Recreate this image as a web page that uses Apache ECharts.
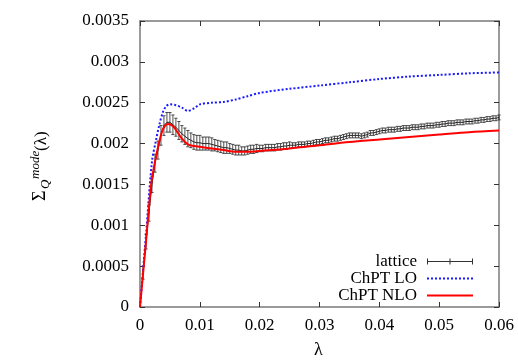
<!DOCTYPE html>
<html>
<head>
<meta charset="utf-8">
<script src="https://cdn.jsdelivr.net/npm/echarts@6/dist/echarts.min.js"></script>
<style>
  html, body { margin: 0; padding: 0; background: #fff; }
  #chart { width: 518px; height: 363px; }
</style>
</head>
<body>
<div id="chart"></div>
<script>
// lattice points: lambda, value, error
const lamLat = [
  0.0005, 0.0010, 0.0015, 0.0020, 0.0025, 0.0030, 0.0035, 0.0040, 0.0045, 0.0050,
  0.0055, 0.0060, 0.0065, 0.0070, 0.0075, 0.0080, 0.0085, 0.0090, 0.0095, 0.0100,
  0.0105, 0.0110, 0.0115, 0.0120, 0.0125, 0.0130, 0.0135, 0.0140, 0.0145, 0.0150,
  0.0155, 0.0160, 0.0165, 0.0170, 0.0175, 0.0180, 0.0185, 0.0190, 0.0195, 0.0200,
  0.0205, 0.0210, 0.0215, 0.0220, 0.0225, 0.0230, 0.0235, 0.0240, 0.0245, 0.0250,
  0.0255, 0.0260, 0.0265, 0.0270, 0.0275, 0.0280, 0.0285, 0.0290, 0.0295, 0.0300,
  0.0305, 0.0310, 0.0315, 0.0320, 0.0325, 0.0330, 0.0335, 0.0340, 0.0345, 0.0350,
  0.0355, 0.0360, 0.0365, 0.0370, 0.0375, 0.0380, 0.0385, 0.0390, 0.0395, 0.0400,
  0.0405, 0.0410, 0.0415, 0.0420, 0.0425, 0.0430, 0.0435, 0.0440, 0.0445, 0.0450,
  0.0455, 0.0460, 0.0465, 0.0470, 0.0475, 0.0480, 0.0485, 0.0490, 0.0495, 0.0500,
  0.0505, 0.0510, 0.0515, 0.0520, 0.0525, 0.0530, 0.0535, 0.0540, 0.0545, 0.0550,
  0.0555, 0.0560, 0.0565, 0.0570, 0.0575, 0.0580, 0.0585, 0.0590, 0.0595, 0.0600
];
const latVal = [
  0.00042, 0.00080, 0.00115, 0.00150, 0.00176, 0.00192, 0.00210, 0.00222, 0.00226, 0.00226,
  0.00223, 0.00220, 0.00216, 0.00212, 0.00209, 0.00206, 0.00204, 0.00202, 0.00201, 0.00201,
  0.00200, 0.00200, 0.00200, 0.00199, 0.00198, 0.00197, 0.00196, 0.00195, 0.00195, 0.00194,
  0.00193, 0.00192, 0.00192, 0.00191, 0.00191, 0.00192, 0.00193, 0.00193, 0.00194, 0.00194,
  0.00194, 0.00195, 0.00195, 0.00195, 0.00195, 0.00196, 0.00196, 0.00197, 0.00197, 0.00198,
  0.00198, 0.00198, 0.00199, 0.00199, 0.00199, 0.00200, 0.00200, 0.00201, 0.00202, 0.00202,
  0.00203, 0.00204, 0.00204, 0.00205, 0.00206, 0.00206, 0.00207, 0.00208, 0.00209, 0.00210,
  0.00210, 0.00210, 0.00210, 0.00209, 0.00210, 0.00211, 0.00213, 0.00213, 0.00214, 0.00215,
  0.00216, 0.00216, 0.00217, 0.00217, 0.00217, 0.00218, 0.00218, 0.00219, 0.00219, 0.00219,
  0.00220, 0.00220, 0.00220, 0.00221, 0.00221, 0.00222, 0.00222, 0.00222, 0.00223, 0.00223,
  0.00224, 0.00224, 0.00225, 0.00225, 0.00225, 0.00226, 0.00226, 0.00226, 0.00227, 0.00227,
  0.00227, 0.00228, 0.00228, 0.00229, 0.00229, 0.00230, 0.00230, 0.00231, 0.00231, 0.00232
];
const latErr = [
  0.00008, 0.00009, 0.00010, 0.00010, 0.00011, 0.00011, 0.00012, 0.00012, 0.00012, 0.00012,
  0.00012, 0.00011, 0.00011, 0.00010, 0.00010, 0.00010, 0.00009, 0.00009, 0.00009, 0.00009,
  0.00008, 0.00008, 0.00008, 0.00008, 0.00007, 0.00007, 0.00007, 0.00007, 0.00007, 0.00006,
  0.00006, 0.00006, 0.00006, 0.00005, 0.00005, 0.00005, 0.00005, 0.00005, 0.00005, 0.00004,
  0.00004, 0.00004, 0.00004, 0.00004, 0.00004, 0.00004, 0.00004, 0.00004, 0.00004, 0.00004,
  0.00003, 0.00003, 0.00003, 0.00003, 0.00003, 0.00003, 0.00003, 0.00003, 0.00003, 0.00003,
  0.00003, 0.00003, 0.00003, 0.00003, 0.00003, 0.00003, 0.00003, 0.00003, 0.00003, 0.00003,
  0.00003, 0.00003, 0.00003, 0.00003, 0.00003, 0.00003, 0.00003, 0.00003, 0.00003, 0.00003,
  0.00003, 0.00003, 0.00003, 0.00003, 0.00003, 0.00003, 0.00003, 0.00003, 0.00003, 0.00003,
  0.00003, 0.00003, 0.00003, 0.00003, 0.00003, 0.00003, 0.00003, 0.00003, 0.00003, 0.00003,
  0.00003, 0.00003, 0.00003, 0.00003, 0.00003, 0.00003, 0.00003, 0.00003, 0.00003, 0.00003,
  0.00003, 0.00003, 0.00003, 0.00003, 0.00003, 0.00003, 0.00003, 0.00003, 0.00003, 0.00003
];

// ChPT LO curve
const lamLO = [0, 0.001, 0.002, 0.0027, 0.0032, 0.0038, 0.0044, 0.005, 0.006, 0.007,
  0.008, 0.009, 0.010, 0.012, 0.014, 0.016, 0.018, 0.020, 0.025, 0.030,
  0.035, 0.040, 0.045, 0.050, 0.055, 0.060];
const valLO = [0, 0.00088, 0.00178, 0.00205, 0.00222, 0.00238, 0.00246, 0.00248, 0.00247, 0.00244,
  0.00240, 0.00243, 0.00248, 0.00250, 0.00251, 0.00254, 0.00258, 0.00262, 0.00267, 0.00271,
  0.00275, 0.00279, 0.00282, 0.00284, 0.00286, 0.00287];

// ChPT NLO curve
const lamNLO = [0, 0.001, 0.0019, 0.0027, 0.0036, 0.0042, 0.0047, 0.0052, 0.0058, 0.0069,
  0.008, 0.009, 0.010, 0.012, 0.014, 0.016, 0.018, 0.020, 0.025, 0.030,
  0.035, 0.040, 0.045, 0.050, 0.055, 0.060];
const valNLO = [0, 0.00080, 0.00152, 0.00185, 0.00213, 0.00222, 0.00224, 0.00223, 0.00219, 0.00207,
  0.00199, 0.00197, 0.00196, 0.00194, 0.00192, 0.00190, 0.00190, 0.00191, 0.00194, 0.00198,
  0.00202, 0.00205, 0.00208, 0.00211, 0.00214, 0.00216];

const serif = '"Liberation Serif", "DejaVu Serif", serif';
const frameColor = '#7a7a7a';

const zip = (xs, ys) => xs.map((x, i) => [x, ys[i]]);
const errData = lamLat.map((x, i) => [x, latVal[i] - latErr[i], latVal[i] + latErr[i]]);

// legend keys drawn as little paths
const iconLattice = 'path://M0,2.5h46v1h-46z M0,0h1v6h-1z M22.5,0h1v6h-1z M45,0h1v6h-1z';
const iconDots = 'path://' + Array.from({ length: 12 }, (_, i) => `M${i * 4},0h2v2h-2z`).join(' ');
const iconSolid = 'path://M0,0h46v2h-46z';

const chart = echarts.init(document.getElementById('chart'), null, { renderer: 'canvas' });

const xBase = {
  type: 'value', min: 0, max: 0.06, interval: 0.01,
  axisLine: { onZero: false, lineStyle: { color: frameColor, width: 1.5 } },
  axisTick: { inside: true, length: 5, lineStyle: { color: '#333' } },
  splitLine: { show: false },
};
const yBase = {
  type: 'value', min: 0, max: 0.0035, interval: 0.0005,
  axisLine: { show: true, onZero: false, lineStyle: { color: frameColor, width: 1.5 } },
  axisTick: { show: true, inside: true, length: 5, lineStyle: { color: '#333' } },
  splitLine: { show: false },
};

chart.setOption({
  animation: false,
  backgroundColor: '#fff',
  grid: { left: 140, right: 19, top: 21, bottom: 56 },
  xAxis: [
    {
      ...xBase, position: 'bottom',
      axisLabel: { color: '#000', fontFamily: serif, fontSize: 17, margin: 10 },
    },
    { ...xBase, position: 'top', axisLabel: { show: false } },
  ],
  yAxis: [
    {
      ...yBase, position: 'left',
      axisLabel: { color: '#000', fontFamily: serif, fontSize: 17, margin: 11 },
    },
    { ...yBase, position: 'right', axisLabel: { show: false } },
  ],
  legend: {
    orient: 'vertical',
    right: 40,
    top: 248,
    align: 'right',
    itemWidth: 46,
    itemHeight: 8,
    itemGap: 0,
    textStyle: { color: '#000', fontFamily: serif, fontSize: 17, padding: [0, 5, 0, 0] },
    data: [
      { name: 'lattice', icon: iconLattice, itemStyle: { color: '#333' } },
      { name: 'ChPT LO', icon: iconDots, itemStyle: { color: '#1a1aff' } },
      { name: 'ChPT NLO', icon: iconSolid, itemStyle: { color: '#ff0000' } },
    ],
  },
  graphic: [
    {
      type: 'group', x: 41, y: 166, rotation: Math.PI / 2,
      children: [
        { type: 'text', x: -35, y: -1, style: { text: 'Σ', font: '18px ' + serif, fill: '#000', verticalAlign: 'middle' } },
        { type: 'text', x: -23, y: 5, style: { text: 'Q', font: 'italic 13px ' + serif, fill: '#000', verticalAlign: 'middle' } },
        { type: 'text', x: -13, y: -5, style: { text: 'mode', font: 'italic 13px ' + serif, fill: '#000', verticalAlign: 'middle' } },
        { type: 'text', x: 15, y: 0.5, style: { text: '(λ)', font: '17px ' + serif, fill: '#000', verticalAlign: 'middle' } },
      ],
    },
    {
      type: 'text', left: 314, top: 341,
      style: { text: 'λ', font: '18px ' + serif, fill: '#000' },
    },
  ],
  series: [
    {
      name: 'lattice',
      type: 'custom',
      data: errData,
      encode: { x: 0, y: [1, 2] },
      z: 2,
      renderItem: (params, api) => {
        const top = api.coord([api.value(0), api.value(2)]);
        const bot = api.coord([api.value(0), api.value(1)]);
        const cap = 1.6;
        const style = { stroke: '#222', lineWidth: 0.8 };
        return {
          type: 'group',
          children: [
            { type: 'line', shape: { x1: top[0], y1: top[1], x2: bot[0], y2: bot[1] }, style },
            { type: 'line', shape: { x1: top[0] - cap, y1: top[1], x2: top[0] + cap, y2: top[1] }, style },
            { type: 'line', shape: { x1: bot[0] - cap, y1: bot[1], x2: bot[0] + cap, y2: bot[1] }, style },
          ],
        };
      },
    },
    {
      name: 'lattice',
      type: 'line',
      data: zip(lamLat, latVal),
      showSymbol: false,
      z: 3,
      lineStyle: { color: '#222', width: 1 },
      itemStyle: { color: '#222' },
    },
    {
      name: 'ChPT LO',
      type: 'line',
      data: zip(lamLO, valLO),
      smooth: 0.3,
      showSymbol: false,
      z: 4,
      lineStyle: { color: '#1a1aff', width: 2, type: [2, 2] },
      itemStyle: { color: '#1a1aff' },
    },
    {
      name: 'ChPT NLO',
      type: 'line',
      data: zip(lamNLO, valNLO),
      smooth: 0.3,
      showSymbol: false,
      z: 5,
      lineStyle: { color: '#ff0000', width: 2 },
      itemStyle: { color: '#ff0000' },
    },
  ],
});
</script>
</body>
</html>
